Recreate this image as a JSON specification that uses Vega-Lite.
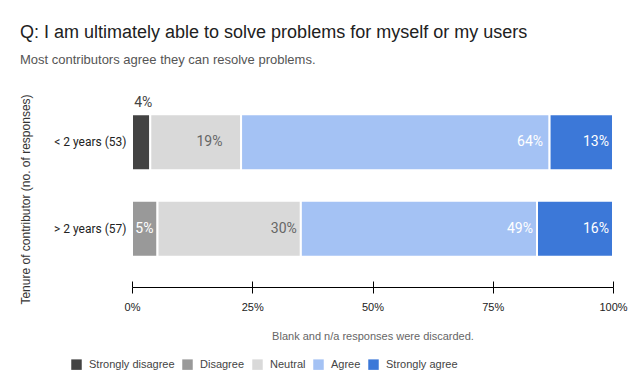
{
  "$schema": "https://vega.github.io/schema/vega-lite/v6.json",
  "autosize": {"type": "none"},
  "width": 481,
  "height": 203,
  "padding": {"left": 132, "top": 84, "right": 21, "bottom": 105},
  "background": "white",
  "title": {
    "text": "Q: I am ultimately able to solve problems for myself or my users",
    "subtitle": "Most contributors agree they can resolve problems.",
    "anchor": "start",
    "frame": "group",
    "dx": -112,
    "offset": 17,
    "font": "Liberation Sans",
    "fontSize": 18,
    "fontWeight": "normal",
    "color": "#212121",
    "subtitleFont": "Liberation Sans",
    "subtitleFontSize": 13,
    "subtitleColor": "#555555",
    "subtitlePadding": 12
  },
  "config": {"view": {"stroke": null}},
  "data": {
    "values": [
      {"group": "< 2 years (53)", "response": "Strongly disagree", "k": 1, "share": 0.038},
      {"group": "< 2 years (53)", "response": "Neutral", "k": 3, "share": 0.189},
      {"group": "< 2 years (53)", "response": "Agree", "k": 4, "share": 0.642},
      {"group": "< 2 years (53)", "response": "Strongly agree", "k": 5, "share": 0.132},
      {"group": "> 2 years (57)", "response": "Disagree", "k": 2, "share": 0.053},
      {"group": "> 2 years (57)", "response": "Neutral", "k": 3, "share": 0.298},
      {"group": "> 2 years (57)", "response": "Agree", "k": 4, "share": 0.491},
      {"group": "> 2 years (57)", "response": "Strongly agree", "k": 5, "share": 0.158}
    ]
  },
  "encoding": {
    "y": {
      "field": "group",
      "type": "nominal",
      "sort": ["< 2 years (53)", "> 2 years (57)"],
      "scale": {"paddingInner": 0.354, "paddingOuter": 0.348},
      "axis": {
        "title": "Tenure of contributor (no. of responses)",
        "titleFont": "Liberation Sans",
        "titleFontSize": 12,
        "titleFontWeight": "normal",
        "titleColor": "#333333",
        "titleX": -100,
        "titleY": 115,
        "titleAlign": "center",
        "domain": false,
        "ticks": false,
        "labelFont": "Roboto",
        "labelFontSize": 12,
        "labelColor": "#222222",
        "labelPadding": 6
      }
    },
    "order": {"field": "k", "type": "quantitative"}
  },
  "resolve": {"axis": {"x": "independent"}},
  "layer": [
    {
      "mark": {"type": "bar", "stroke": "white", "strokeWidth": 2},
      "encoding": {
        "x": {
          "field": "share",
          "type": "quantitative",
          "stack": "normalize",
          "scale": {"domain": [0, 1]},
          "axis": {
            "values": [0, 0.25, 0.5, 0.75, 1],
            "format": ".0%",
            "grid": false,
            "labelFlush": false,
            "domainColor": "#000000",
            "domainWidth": 1,
            "tickColor": "#000000",
            "tickSize": 6,
            "labelFont": "Liberation Sans",
            "labelFontSize": 11,
            "labelColor": "#222222",
            "labelPadding": 8,
            "title": "Blank and n/a responses were discarded.",
            "titleFont": "Liberation Sans",
            "titleFontSize": 11,
            "titleFontWeight": "normal",
            "titleColor": "#666666",
            "titlePadding": 18
          }
        },
        "color": {
          "field": "response",
          "type": "nominal",
          "scale": {
            "domain": ["Strongly disagree", "Disagree", "Neutral", "Agree", "Strongly agree"],
            "range": ["#434343", "#999999", "#d9d9d9", "#a4c2f4", "#3c78d8"]
          },
          "legend": {
            "title": null,
            "orient": "none",
            "direction": "horizontal",
            "legendX": -61,
            "legendY": 275,
            "symbolType": "square",
            "symbolSize": 110,
            "symbolStrokeWidth": 0,
            "labelFont": "Liberation Sans",
            "labelFontSize": 11,
            "labelColor": "#444444",
            "labelOffset": 7,
            "columnPadding": 7
          }
        }
      }
    },
    {
      "transform": [{"filter": "!(datum.response === 'Strongly disagree' && datum.group === '< 2 years (53)')"}],
      "mark": {"type": "text", "align": "right", "baseline": "middle", "dx": -4, "font": "Roboto", "fontSize": 14},
      "encoding": {
        "x": {"field": "share", "type": "quantitative", "stack": "normalize", "axis": null},
        "text": {"field": "share", "type": "quantitative", "format": ".0%"},
        "color": {"condition": {"test": "datum.response === 'Neutral'", "value": "#666666"}, "value": "#ffffff"}
      }
    },
    {
      "transform": [{"filter": "datum.response === 'Strongly disagree' && datum.group === '< 2 years (53)'"}],
      "mark": {"type": "text", "align": "right", "baseline": "middle", "dx": 2, "dy": -39, "font": "Roboto", "fontSize": 14, "color": "#444444"},
      "encoding": {
        "x": {
          "field": "share",
          "type": "quantitative",
          "stack": null,
          "axis": {
            "orient": "top",
            "offset": -203,
            "values": [0, 0.25, 0.5, 0.75, 1],
            "labels": false,
            "domain": false,
            "grid": false,
            "tickColor": "#000000",
            "tickSize": 6,
            "title": null
          }
        },
        "text": {"field": "share", "type": "quantitative", "format": ".0%"}
      }
    }
  ]
}
